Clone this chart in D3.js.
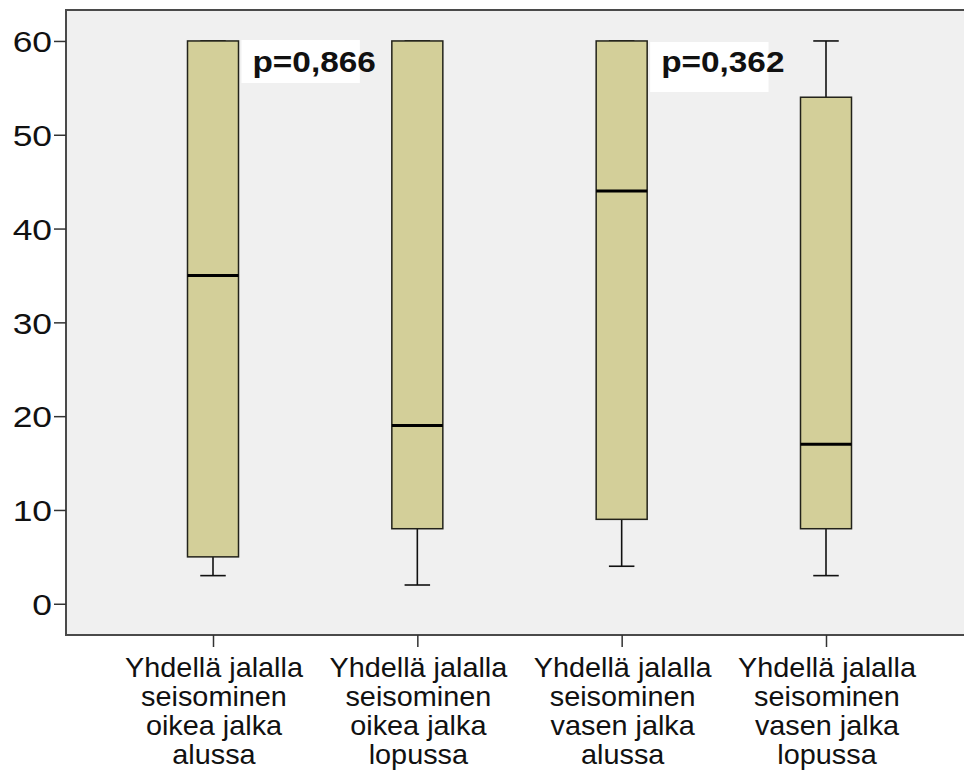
<!DOCTYPE html>
<html>
<head>
<meta charset="utf-8">
<script src="https://cdn.jsdelivr.net/npm/d3@7"></script>
<style>
  body { margin: 0; background: #fff; }
  svg text { font-family: Arial, "Liberation Sans", sans-serif; fill: #111; }
</style>
</head>
<body>
<div id="chart"></div>
<script>
(function () {
    const width = 964, height = 774;

    // ── DATA ───────────────────────────────────────────────────────────────
    const categories = ["oa", "ol", "va", "vl"];
    const labels = [
        ["Yhdellä jalalla", "seisominen", "oikea jalka", "alussa"],
        ["Yhdellä jalalla", "seisominen", "oikea jalka", "lopussa"],
        ["Yhdellä jalalla", "seisominen", "vasen jalka", "alussa"],
        ["Yhdellä jalalla", "seisominen", "vasen jalka", "lopussa"]
    ];
    const mins    = [3, 2, 4, 3];
    const q1s     = [5, 8, 9, 8];
    const medians = [35, 19, 44, 17];
    const q3s     = [60, 60, 60, 54];
    const maxs    = [60, 60, 60, 60];
    const yTicks  = [0, 10, 20, 30, 40, 50, 60];
    const pLabels = [
        { text: "p=0,866", between: [0, 1] },
        { text: "p=0,362", between: [2, 3] }
    ];

    // ── SVG SETUP ──────────────────────────────────────────────────────────
    const svg = d3.select("#chart").append("svg")
        .attr("width", width).attr("height", height);

    const frame = { left: 66, top: 10, right: 966, bottom: 635 };

    const y = d3.scaleLinear().domain([-3.33, 63.3]).range([frame.bottom, frame.top]);
    const x = d3.scalePoint().domain(categories).range([213, 826]);
    const boxW = 51;

    // background
    svg.append("rect")
        .attr("x", frame.left).attr("y", frame.top)
        .attr("width", frame.right - frame.left).attr("height", frame.bottom - frame.top)
        .attr("fill", "#f0f0f0");

    // frame lines (top / left / bottom)
    svg.append("path")
        .attr("d", `M${frame.right},${frame.top}H${frame.left}V${frame.bottom}H${frame.right}`)
        .attr("fill", "none").attr("stroke", "#4a4a4a").attr("stroke-width", 2);

    // ── AXES ───────────────────────────────────────────────────────────────
    const yAxis = svg.append("g")
        .attr("transform", `translate(${frame.left},0)`)
        .call(d3.axisLeft(y).tickValues(yTicks).tickSize(12).tickPadding(2));
    yAxis.select(".domain").remove();
    yAxis.selectAll("line").attr("stroke", "#333").attr("stroke-width", 1.5);
    // the original digits are drawn a bit wide, so stretch them horizontally
    yAxis.selectAll("text")
        .attr("x", 0)
        .attr("transform", "translate(-14,0) scale(1.18,1)")
        .attr("font-size", 30).attr("dy", "0.36em")
        .attr("fill", "#111");

    const xAxis = svg.append("g")
        .attr("transform", `translate(0,${frame.bottom})`)
        .call(d3.axisBottom(x).tickSize(12).tickFormat(""));
    xAxis.select(".domain").remove();
    xAxis.selectAll("line").attr("stroke", "#333").attr("stroke-width", 1.5);

    // category labels (multi-line)
    categories.forEach((c, i) => {
        const t = svg.append("text")
            .attr("text-anchor", "middle")
            .attr("transform", `translate(${x(c) + 1},0) scale(1.03,1)`)
            .attr("font-size", 28);
        labels[i].forEach((line, j) => {
            t.append("tspan")
                .attr("x", 0)
                .attr("y", 677 + j * 29)
                .text(line);
        });
    });

    // ── BOXES ──────────────────────────────────────────────────────────────
    const boxes = svg.selectAll(".box")
        .data(categories.map((c, i) => ({
            c, min: mins[i], q1: q1s[i], med: medians[i], q3: q3s[i], max: maxs[i]
        })))
        .enter().append("g").attr("class", "box");

    // whiskers
    boxes.append("line")
        .attr("x1", d => x(d.c)).attr("x2", d => x(d.c))
        .attr("y1", d => y(d.min)).attr("y2", d => y(d.q1))
        .attr("stroke", "#111").attr("stroke-width", 1.6);
    boxes.append("line")
        .attr("x1", d => x(d.c)).attr("x2", d => x(d.c))
        .attr("y1", d => y(d.max)).attr("y2", d => y(d.q3))
        .attr("stroke", "#111").attr("stroke-width", 1.6);
    boxes.append("line")
        .attr("x1", d => x(d.c) - boxW / 4).attr("x2", d => x(d.c) + boxW / 4)
        .attr("y1", d => y(d.min)).attr("y2", d => y(d.min))
        .attr("stroke", "#111").attr("stroke-width", 1.6);
    boxes.append("line")
        .attr("x1", d => x(d.c) - boxW / 4).attr("x2", d => x(d.c) + boxW / 4)
        .attr("y1", d => y(d.max)).attr("y2", d => y(d.max))
        .attr("stroke", "#111").attr("stroke-width", 1.6);

    // box
    boxes.append("rect")
        .attr("x", d => x(d.c) - boxW / 2)
        .attr("y", d => y(d.q3))
        .attr("width", boxW)
        .attr("height", d => y(d.q1) - y(d.q3))
        .attr("fill", "#d3cf99")
        .attr("stroke", "#22221a").attr("stroke-width", 1.5);

    // median
    boxes.append("line")
        .attr("x1", d => x(d.c) - boxW / 2).attr("x2", d => x(d.c) + boxW / 2)
        .attr("y1", d => y(d.med)).attr("y2", d => y(d.med))
        .attr("stroke", "#000").attr("stroke-width", 3);

    // ── P-VALUE LABELS ─────────────────────────────────────────────────────
    pLabels.forEach((p, k) => {
        const xa = x(categories[p.between[0]]) + boxW / 2;
        const xb = x(categories[p.between[1]]) - boxW / 2;
        const top = k === 0 ? 40 : 42;
        const h = k === 0 ? 43 : 50;
        svg.append("rect")
            .attr("x", xa + 3).attr("y", top)
            .attr("width", xb - xa - 35).attr("height", h)
            .attr("fill", "#fff");
        svg.append("text")
            .attr("transform", `translate(${xa + 14},72) scale(1.15,1)`)
            .attr("font-size", 29).attr("font-weight", "bold")
            .text(p.text);
    });
})();
</script>
</body>
</html>
